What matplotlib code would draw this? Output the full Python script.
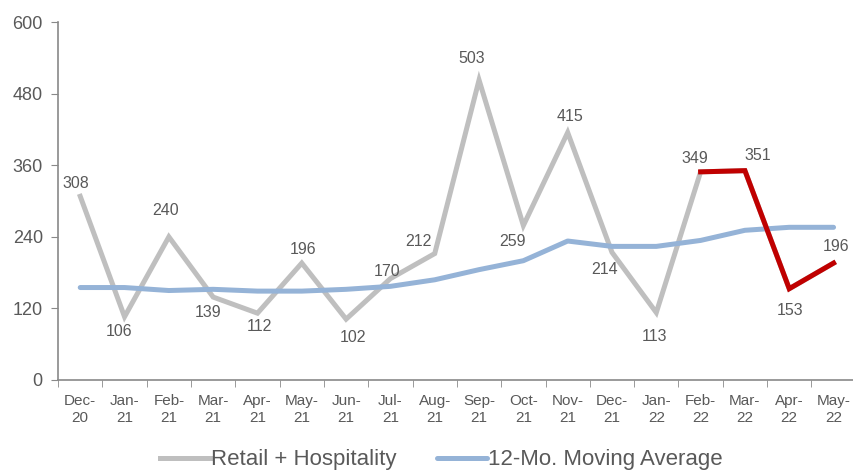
import numpy as np
import matplotlib.pyplot as plt

plt.rcParams['font.family'] = ['Liberation Sans', 'DejaVu Sans']

# -------------------------------------------------
# Data
# -------------------------------------------------
months = ["Dec-\n20", "Jan-\n21", "Feb-\n21", "Mar-\n21", "Apr-\n21", "May-\n21",
          "Jun-\n21", "Jul-\n21", "Aug-\n21", "Sep-\n21", "Oct-\n21", "Nov-\n21",
          "Dec-\n21", "Jan-\n22", "Feb-\n22", "Mar-\n22", "Apr-\n22", "May-\n22"]
retail_hosp = [308, 106, 240, 139, 112, 196, 102, 170, 212, 503, 259, 415,
               214, 113, 349, 351, 153, 196]
moving_avg = [155, 155, 150, 152, 149, 149, 152, 157, 168, 185, 200, 233,
              224, 224, 234, 251, 256, 256]
recent_start = 14  # Feb-22 onward highlighted in red

# data label offsets (pixels, label centre relative to point; +dy = down)
label_dx = [-4, -5, -3, -5, 2, 1, 7, -3, -16, -7, -11, 2, -7, -2, -6, 13, 1, 3]
label_dy = [-13, 15, -26, 15, 13, -14, 18, -7, -12, -22, 16, -16, 17, 24, -13, -15, 22, -17]

grey = "#BFBFBF"
blue = "#95B3D7"
red = "#C00000"
txt = "#595959"
axis_col = "#898989"

x = np.arange(len(months))

fig = plt.figure(figsize=(8.54, 4.72), dpi=100)
ax = fig.add_axes([0.068, 0.195, 0.934, 0.758])

ax.plot(x, retail_hosp, color=grey, lw=3.6, solid_joinstyle="miter",
        label="Retail + Hospitality", zorder=2)
ax.plot(x, moving_avg, color=blue, lw=3.6, label="12-Mo. Moving Average",
        solid_capstyle="round", zorder=3)
ax.plot(x[recent_start:], retail_hosp[recent_start:], color=red, lw=3.6,
        solid_joinstyle="miter", zorder=4)

px2pt = 72 / fig.dpi
for xi, v, dx, dy in zip(x, retail_hosp, label_dx, label_dy):
    ax.annotate(str(v), (xi, v), xytext=(dx * px2pt, -dy * px2pt),
                textcoords="offset points", ha="center", va="center",
                fontsize=11.5, color=txt, zorder=5)

ax.set_xlim(-0.5, len(months) - 0.5)
ax.set_ylim(0, 600)
ax.set_yticks(np.arange(0, 601, 120))
ax.tick_params(axis="y", labelsize=13, labelcolor=txt, length=5, direction="out",
               color=axis_col, pad=6)
ax.set_xticks(x)
ax.set_xticklabels(months, fontsize=11, color=txt, linespacing=1.3)
ax.set_xticks(np.arange(-0.5, len(months), 1), minor=True)
ax.tick_params(axis="x", which="major", length=0, pad=10)
ax.tick_params(axis="x", which="minor", length=5, color=axis_col)

for side in ["top", "right"]:
    ax.spines[side].set_visible(False)
for side in ["left", "bottom"]:
    ax.spines[side].set_color(axis_col)
    ax.spines[side].set_linewidth(1.2)

leg = fig.legend(loc="center", bbox_to_anchor=(0.517, 1 - 460 / 472), ncol=2,
                 frameon=False, fontsize=16, handlelength=2.25,
                 columnspacing=1.8, handletextpad=0.05, borderpad=0)
for t in leg.get_texts():
    t.set_color(txt)

fig.savefig("out.png", dpi=100)
